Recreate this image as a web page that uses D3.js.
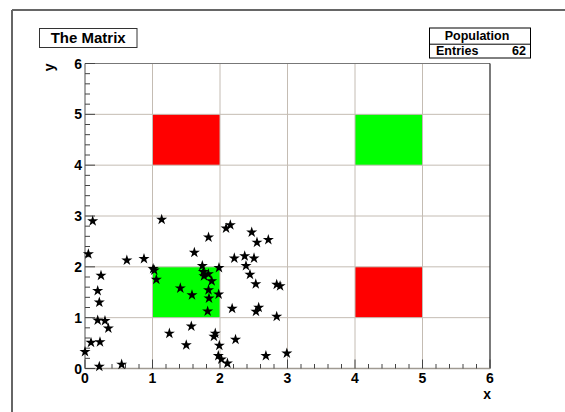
<!DOCTYPE html>
<html><head><meta charset="utf-8">
<script src="https://cdn.jsdelivr.net/npm/d3@7"></script>
<style>body{margin:0;background:#fff;}svg{display:block;}text{font-family:"Liberation Sans",Arial,sans-serif;font-weight:bold;}</style>
</head><body>
<script>
const xPoints=[0.114,1.136,0.05,0.62,0.874,1.027,1.057,0.237,0.188,0.212,0.188,0.296,0.346,0.089,0.222,0.0,0.212,0.543,1.25,
2.09,1.83,1.62,1.738,1.985,1.753,1.827,1.763,1.877,1.412,1.83,1.585,1.98,1.837,1.817,1.575,1.93,1.91,1.50,1.99,1.975,2.02,2.11,
2.153,2.47,2.548,2.716,2.212,2.366,2.504,2.385,2.444,2.53,2.84,2.89,2.18,2.573,2.533,2.84,2.23,2.68,2.99,1.01];
const yPoints=[2.90,2.93,2.25,2.13,2.16,1.93,1.75,1.83,1.53,1.30,0.95,0.94,0.79,0.51,0.52,0.33,0.04,0.08,0.69,
2.76,2.58,2.28,2.02,1.98,1.90,1.86,1.82,1.72,1.58,1.545,1.446,1.46,1.38,1.125,0.83,0.69,0.63,0.46,0.45,0.25,0.18,0.10,
2.82,2.68,2.48,2.53,2.17,2.21,2.17,2.02,1.85,1.66,1.65,1.62,1.18,1.20,1.12,1.02,0.57,0.25,0.30,1.96];
const cellX=[1,4,1,4];
const cellY=[4,4,1,1];
const cellColor=["red","green","green","red"];
const majorTicks=[0,1,2,3,4,5,6];
const titleText="The Matrix";
const statsName="Population";
const entries=62;

const W=565,H=412;
const svg=d3.select("body").append("svg").attr("width",W).attr("height",H);
const x=d3.scaleLinear().domain([0,6]).range([85,490]);
const y=d3.scaleLinear().domain([0,6]).range([368.5,63.5]);
const colorMap={red:"#ff0000",green:"#00ff00"};

// canvas bevel border
svg.append("line").attr("x1",12).attr("x2",W).attr("y1",10).attr("y2",10).attr("stroke","#666").attr("stroke-width",2);
svg.append("line").attr("x1",12).attr("x2",12).attr("y1",10).attr("y2",H).attr("stroke","#666").attr("stroke-width",2);

// cells
svg.selectAll("rect.cell").data(cellX).enter().append("rect").attr("class","cell")
 .attr("x",(d)=>x(d)).attr("y",(d,i)=>y(cellY[i]+1))
 .attr("width",(d)=>x(d+1)-x(d)).attr("height",(d,i)=>y(cellY[i])-y(cellY[i]+1))
 .attr("fill",(d,i)=>colorMap[cellColor[i]]);

// grid
const inner=majorTicks.slice(1,-1);
svg.selectAll("line.gx").data(inner).enter().append("line")
 .attr("x1",d=>x(d)).attr("x2",d=>x(d)).attr("y1",y(0)).attr("y2",y(6)).attr("stroke","#c4bcb3").attr("stroke-width",1);
svg.selectAll("line.gy").data(inner).enter().append("line")
 .attr("y1",d=>y(d)).attr("y2",d=>y(d)).attr("x1",x(0)).attr("x2",x(6)).attr("stroke","#c4bcb3").attr("stroke-width",1);

// frame
svg.append("line").attr("x1",x(0)).attr("x2",x(6)).attr("y1",y(6)).attr("y2",y(6)).attr("stroke","#777");
svg.append("line").attr("x1",x(6)).attr("x2",x(6)).attr("y1",y(0)).attr("y2",y(6)).attr("stroke","#222").attr("stroke-width",1.2);
svg.append("line").attr("x1",x(0)).attr("x2",x(0)).attr("y1",y(0)).attr("y2",y(6)).attr("stroke","#888").attr("stroke-width",1.5);
svg.append("line").attr("x1",x(0)).attr("x2",x(6)).attr("y1",y(0)).attr("y2",y(0)).attr("stroke","#a09a92").attr("stroke-width",1.5);

// ticks
const minor=d3.range(0,30).map(i=>i/5).filter(v=>!Number.isInteger(v));
svg.selectAll("line.xmaj").data(majorTicks).enter().append("line")
 .attr("x1",d=>x(d)).attr("x2",d=>x(d)).attr("y1",y(0)).attr("y2",y(0)-9).attr("stroke","#444");
svg.selectAll("line.xmin").data(minor).enter().append("line")
 .attr("x1",d=>x(d)).attr("x2",d=>x(d)).attr("y1",y(0)).attr("y2",y(0)-4.5).attr("stroke","#444");
svg.selectAll("line.ymaj").data(majorTicks).enter().append("line")
 .attr("y1",d=>y(d)).attr("y2",d=>y(d)).attr("x1",x(0)).attr("x2",x(0)+10).attr("stroke","#444");
svg.selectAll("line.ymin").data(minor).enter().append("line")
 .attr("y1",d=>y(d)).attr("y2",d=>y(d)).attr("x1",x(0)).attr("x2",x(0)+5).attr("stroke","#444");

// tick labels
svg.selectAll("text.xl").data(majorTicks).enter().append("text")
 .attr("x",d=>x(d)).attr("y",y(0)+14).attr("text-anchor","middle").attr("font-size",14).text(d=>d);
svg.selectAll("text.yl").data(majorTicks).enter().append("text")
 .attr("x",x(0)-3).attr("y",d=>y(d)+5).attr("text-anchor","end").attr("font-size",14).text(d=>d);

// axis titles
svg.append("text").attr("x",x(6)+1).attr("y",398.5).attr("text-anchor","end").attr("font-size",14).text("x");
svg.append("text").attr("transform",`translate(53.5,${y(6)}) rotate(-90)`).attr("text-anchor","end").attr("font-size",14).text("y");

// stars
const star=d3.symbol().type(d3.symbolStar).size(38);
svg.selectAll("path.pt").data(xPoints).enter().append("path")
 .attr("d",star).attr("transform",(d,i)=>`translate(${x(d)},${y(yPoints[i])})`).attr("fill","#000");

// title box
svg.append("rect").attr("x",39.5).attr("y",28.5).attr("width",97.5).attr("height",19).attr("fill","#fff").attr("stroke","#333");
svg.append("text").attr("x",88.2).attr("y",43).attr("text-anchor","middle").attr("font-size",15).text(titleText);

// stats box
svg.append("rect").attr("x",429.5).attr("y",28).attr("width",101).attr("height",30).attr("fill","#fff").attr("stroke","#000");
svg.append("line").attr("x1",429.5).attr("x2",530.5).attr("y1",44.2).attr("y2",44.2).attr("stroke","#000");
svg.append("text").attr("x",477).attr("y",39.5).attr("text-anchor","middle").attr("font-size",12.5).text(statsName);
svg.append("text").attr("x",436).attr("y",54.5).attr("font-size",12.5).text("Entries");
svg.append("text").attr("x",526).attr("y",54.5).attr("text-anchor","end").attr("font-size",12.5).text(entries);
</script>
</body></html>
